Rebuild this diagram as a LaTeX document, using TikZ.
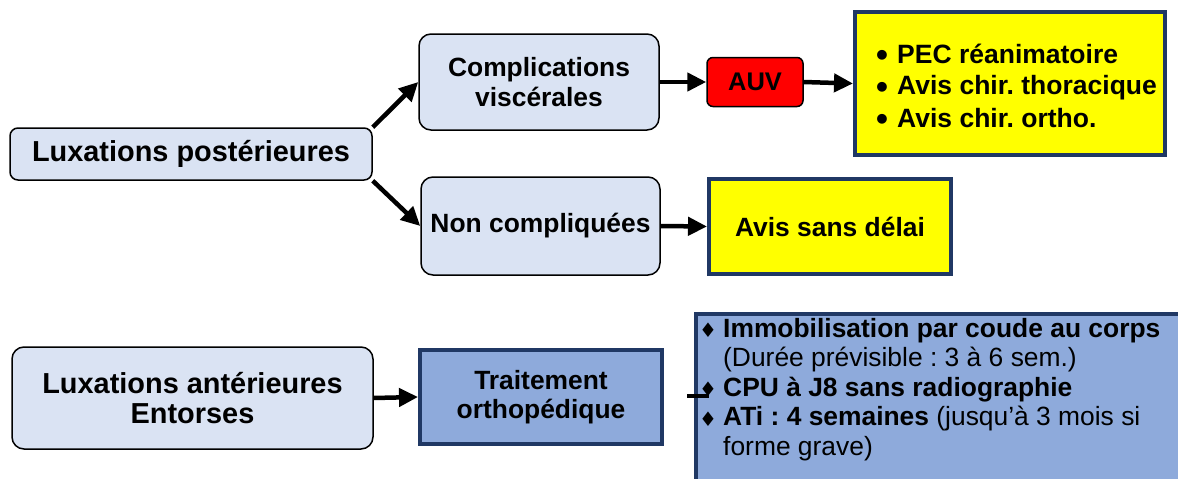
\documentclass[tikz,border=0pt]{standalone}
\usepackage{fontspec}
\setmainfont{Liberation Sans}
\newfontfamily\symfont{DejaVu Sans}
\usetikzlibrary{arrows.meta}
\definecolor{boxlight}{HTML}{DAE3F3}
\definecolor{navy}{HTML}{203864}
\definecolor{boxblue}{HTML}{8EAADB}
\definecolor{yel}{HTML}{FFFF00}
\definecolor{auvred}{HTML}{FF0000}
\frenchspacing
\newcommand{\pecbullet}{\makebox[21pt][l]{\raisebox{-3.5pt}{\fontsize{34}{32}\selectfont •}}}
\newcommand{\diabullet}{\makebox[23pt][l]{\hspace{-1pt}\raisebox{-0.5pt}{\symfont\fontsize{20}{20}\selectfont ♦}}}
\begin{document}
\begin{tikzpicture}[x=1pt,y=-1pt,
  lightbox/.style={draw=black, line width=1.5pt, fill=boxlight, rounded corners=12pt,
    align=center, inner sep=0pt, font=\bfseries\fontsize{26.4}{30}\selectfont},
  yellowbox/.style={draw=navy, line width=4pt, fill=yel, inner sep=0pt,
    align=center, font=\bfseries\fontsize{26.4}{30}\selectfont},
  bluebox/.style={draw=navy, line width=4pt, fill=boxblue, inner sep=0pt, align=center},
  redbox/.style={draw=black, line width=1.5pt, fill=auvred, rounded corners=6pt,
    inner sep=0pt, font=\bfseries\fontsize{25.5}{30}\selectfont},
  arr/.style={line width=4.5pt, -{Triangle[length=19pt,width=18pt]}},
  listtext/.style={anchor=base west, inner sep=0pt, align=left}]
\useasboundingbox (0,0) rectangle (1178,479);
\clip (0,0) rectangle (1178,479);

% top part
\node[lightbox, rounded corners=8pt, minimum width=362pt, minimum height=52pt,
  font=\bfseries\fontsize{28.9}{34}\selectfont] (lp) at (191,154) {Luxations postérieures};
\node[lightbox, minimum width=240pt, minimum height=96pt] (cv) at (539,82) {Complications\\viscérales};
\node[lightbox, minimum width=239pt, minimum height=98pt] (nc) at (540.5,226) {Non compliquées};
\node[redbox, minimum width=96pt, minimum height=49pt] (auv) at (755,82) {AUV};
\node[yellowbox, minimum width=310pt, minimum height=143pt] (pec) at (1010,83.5) {};
\node[listtext, font=\bfseries\fontsize{26.5}{32}\selectfont] (pectext) at (876,63)
  {\begin{tabular}[t]{@{}l@{}l@{}}
   \pecbullet & PEC réanimatoire\\
   \pecbullet & Avis chir. thoracique\\
   \pecbullet & Avis chir. ortho.
   \end{tabular}};
\node[yellowbox, minimum width=242pt, minimum height=95pt] (asd) at (830,226.5) {Avis sans délai};

\draw[arr] (lp.north east) -- (cv.west);
\draw[arr] (lp.south east) -- (nc.west);
\draw[arr] (cv.east) -- (auv.west);
\draw[arr] (auv.east) -- (pec.west);
\draw[arr] (nc.east) -- (asd.west);

% bottom part
\node[lightbox, minimum width=361pt, minimum height=102pt,
  font=\bfseries\fontsize{28.9}{30}\selectfont] (la) at (192.5,398) {Luxations antérieures\\Entorses};
\node[bluebox, minimum width=242pt, minimum height=94pt,
  font=\bfseries\fontsize{26.4}{29}\selectfont] (to) at (541,397) {Traitement\\orthopédique};
\draw[arr] (la.east) -- (to.west);

\node[bluebox, anchor=north west, minimum width=500pt, minimum height=180pt] (big) at (694,312) {};
\node[listtext, font=\fontsize{26.4}{29.6}\selectfont] (bigtext) at (700,337)
  {\begin{tabular}[t]{@{}l@{}l@{}}
   \diabullet & \textbf{Immobilisation par coude au corps}\\
   & (Durée prévisible : 3 à 6 sem.)\\
   \diabullet & \textbf{CPU à J8 sans radiographie}\\
   \diabullet & \textbf{ATi : 4 semaines} (jusqu’à 3 mois si\\
   & forme grave)
   \end{tabular}};
\coordinate (s1) at (687,396);
\coordinate (s2) at (709,396);
\draw[line width=4.5pt] (s1) -- (s2);
\end{tikzpicture}
\end{document}
